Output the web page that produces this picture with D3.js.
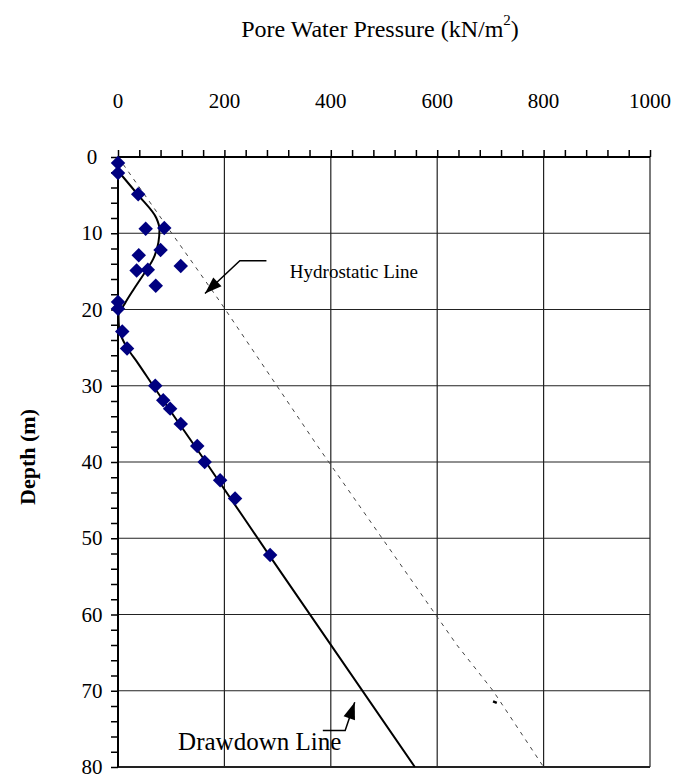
<!DOCTYPE html>
<html>
<head>
<meta charset="utf-8">
<script src="https://cdn.jsdelivr.net/npm/d3@7"></script>
<style>
  body { margin: 0; background: #fff; }
  text { font-family: "Liberation Serif", "Times New Roman", serif; fill: #000; }
</style>
</head>
<body>
<div id="chart"></div>
<script>
"use strict";

let svgWidth = 674;
let svgHeight = 774;

/* Data */
// measured points: depth (m) and pore water pressure (kN/m2)
let pointDepth = [0.8, 2.1, 4.9, 9.4, 9.3, 12.2, 12.9, 14.3, 14.9, 14.8, 16.9, 19.0, 19.9,
  22.9, 25.1, 30.0, 31.9, 33.0, 35.0, 37.9, 40.0, 42.4, 44.8, 52.2];
let pointPressure = [0, 0, 38, 52, 87, 80, 39, 118, 35, 56, 71, 0, 0,
  8, 17, 70, 85, 98, 118, 149, 163, 192, 220, 286];

// drawdown line (solid)
let drawDepth = [2, 5, 8, 9.5, 11.2, 13.4, 15.4, 17.4, 19.2, 20.8, 22.5, 25, 27, 30, 40, 52.5, 80];
let drawPressure = [2, 38, 72, 78, 76, 66, 48, 29, 13, 1, 2, 17, 37, 66, 165, 287, 558];

// hydrostatic line (dashed)
let hydroDepth = [0, 19, 38, 64, 70, 80];
let hydroPressure = [0, 192, 376, 637, 705, 800];

let xTicks = [0, 200, 400, 600, 800, 1000];
let yTicks = [0, 10, 20, 30, 40, 50, 60, 70, 80];

/* Canvas */
let svg = d3.select("#chart")
  .append("svg")
  .attr("width", svgWidth)
  .attr("height", svgHeight);

/* Scales */
let xScale = d3.scaleLinear().domain([0, 1000]).range([118, 650]);
let yScale = d3.scaleLinear().domain([0, 80]).range([157, 767]);

/* Grid lines */
svg.selectAll("line.vgrid")
  .data(xTicks.slice(1))
  .enter()
  .append("line")
  .attr("x1", d => xScale(d))
  .attr("x2", d => xScale(d))
  .attr("y1", yScale(0))
  .attr("y2", yScale(80))
  .attr("stroke", "#222")
  .attr("stroke-width", 1.2);

svg.selectAll("line.hgrid")
  .data(yTicks.slice(1))
  .enter()
  .append("line")
  .attr("x1", xScale(0))
  .attr("x2", xScale(1000))
  .attr("y1", d => yScale(d))
  .attr("y2", d => yScale(d))
  .attr("stroke", "#222")
  .attr("stroke-width", d => d === 80 ? 2 : 1.2);

/* Axes with minor ticks */
let topAxis = d3.axisTop(xScale)
  .tickValues(d3.range(0, 1001, 40))
  .tickSize(7)
  .tickFormat("");

svg.append("g")
  .attr("transform", `translate(0,${yScale(0)})`)
  .call(topAxis)
  .call(g => g.select(".domain").attr("stroke-width", 2).attr("d", `M${xScale(0)},0H${xScale(1000)}`))
  .call(g => g.selectAll(".tick line").attr("stroke-width", 1.5));

let leftAxis = d3.axisLeft(yScale)
  .tickValues(d3.range(0, 81, 2))
  .tickSize(7)
  .tickFormat("");

svg.append("g")
  .attr("transform", `translate(${xScale(0)},0)`)
  .call(leftAxis)
  .call(g => g.select(".domain").attr("stroke-width", 2).attr("d", `M0,${yScale(0)}V${yScale(80)}`))
  .call(g => g.selectAll(".tick line").attr("stroke-width", 1.5));

/* Tick labels */
svg.selectAll("text.xlab")
  .data(xTicks)
  .enter()
  .append("text")
  .attr("x", d => xScale(d))
  .attr("y", 108)
  .attr("text-anchor", "middle")
  .attr("font-size", "21px")
  .text(d => d);

svg.selectAll("text.ylab")
  .data(yTicks)
  .enter()
  .append("text")
  .attr("x", 92)
  .attr("y", d => yScale(d) + 7)
  .attr("text-anchor", "middle")
  .attr("font-size", "21px")
  .text(d => d);

/* Axis titles */
let title = svg.append("text")
  .attr("x", 380)
  .attr("y", 37)
  .attr("text-anchor", "middle")
  .attr("font-size", "24px");
title.append("tspan").text("Pore Water Pressure (kN/m");
title.append("tspan").attr("dy", -12).attr("font-size", "15px").text("2");
title.append("tspan").attr("dy", 12).text(")");

svg.append("text")
  .attr("transform", "translate(35,457) rotate(-90)")
  .attr("text-anchor", "middle")
  .attr("font-size", "22px")
  .attr("font-weight", "bold")
  .text("Depth (m)");

/* Lines */
let hydroData = hydroDepth.map((d, i) => ({ d: d, p: hydroPressure[i] }));
let drawData = drawDepth.map((d, i) => ({ d: d, p: drawPressure[i] }));

let line = d3.line()
  .x(v => xScale(v.p))
  .y(v => yScale(v.d));

svg.append("path")
  .datum(hydroData)
  .attr("fill", "none")
  .attr("stroke", "#444")
  .attr("stroke-width", 1)
  .attr("stroke-dasharray", "4,5")
  .attr("d", line);

// little mark on the hydrostatic line
svg.append("line")
  .attr("x1", xScale(705))
  .attr("y1", yScale(71.4))
  .attr("x2", xScale(712))
  .attr("y2", yScale(71.6))
  .attr("stroke", "#000")
  .attr("stroke-width", 2.5);

svg.append("path")
  .datum(drawData)
  .attr("fill", "none")
  .attr("stroke", "#000")
  .attr("stroke-width", 2)
  .attr("d", line.curve(d3.curveMonotoneY));

/* Points */
let pointData = pointDepth.map((d, i) => ({ d: d, p: pointPressure[i] }));

svg.selectAll("path.pt")
  .data(pointData)
  .enter()
  .append("path")
  .attr("d", d3.symbol().type(d3.symbolSquare).size(105))
  .attr("transform", v => `translate(${xScale(v.p)},${yScale(v.d)}) rotate(45)`)
  .attr("fill", "#000080");

/* Annotations */
function arrow(pts) {
  let px = pts.map(v => [xScale(v[0]), yScale(v[1])]);
  svg.append("path")
    .attr("d", d3.line()(px))
    .attr("fill", "none")
    .attr("stroke", "#000")
    .attr("stroke-width", 1.5);
  let tip = px[px.length - 1];
  let prev = px[px.length - 2];
  let ang = Math.atan2(tip[1] - prev[1], tip[0] - prev[0]);
  let len = 17, half = 6;
  let bx = tip[0] - len * Math.cos(ang), by = tip[1] - len * Math.sin(ang);
  svg.append("path")
    .attr("d", `M${tip[0]},${tip[1]}L${bx + half * Math.sin(ang)},${by - half * Math.cos(ang)}L${bx - half * Math.sin(ang)},${by + half * Math.cos(ang)}Z`)
    .attr("fill", "#000");
}

arrow([[279, 13.6], [229, 13.6], [163.5, 17.9]]);
arrow([[385, 75.2], [427, 75.2], [445, 71.5]]);

svg.append("text")
  .attr("x", xScale(323))
  .attr("y", yScale(15.9))
  .attr("font-size", "19px")
  .text("Hydrostatic Line");

svg.append("text")
  .attr("x", xScale(113))
  .attr("y", yScale(77.8))
  .attr("font-size", "25px")
  .text("Drawdown Line");
</script>
</body>
</html>
